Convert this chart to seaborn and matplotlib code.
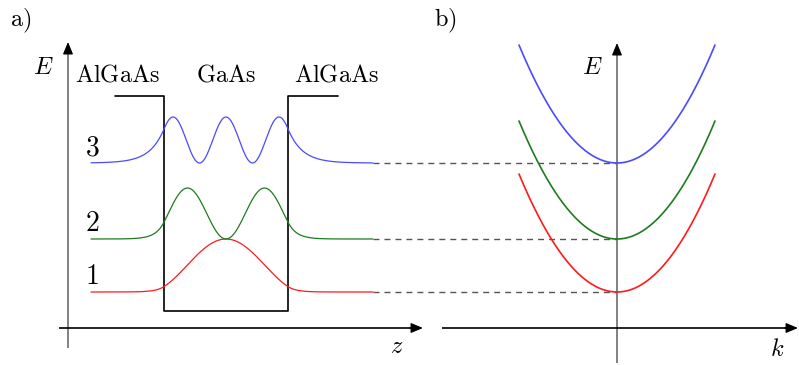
import numpy as np
import pandas as pd
import matplotlib
matplotlib.use("Agg")
import matplotlib.pyplot as plt
import seaborn as sns

sns.set_theme(style="white")
plt.rcParams["mathtext.fontset"] = "cm"
plt.rcParams["lines.scale_dashes"] = False
plt.rcParams["text.color"] = "black"

# ---------------- data (schematic units: x ~ horizontal position, E ~ energy) ----------------
levels = [36, 89, 165]                 # subband energies E1, E2, E3
level_labels = ["1", "2", "3"]
peak_heights = [53, 51, 46]            # drawn height of |psi|^2
wavenumbers = [0.0201, 0.0408, 0.0593] # inside-well wavenumbers
level_colors = ["#ff1a1a", "#1e7b1e", "#4a4aff"]

well_center = 226
well_halfwidth = 62
well_top = 232
well_bottom = 17
barrier_outer = [115, 338]
wave_span = [91, 373]

layer_labels = ["AlGaAs", "GaAs", "AlGaAs"]
layer_x = [118, 226, 337]

k0 = 617                # k = 0 position in panel b
k_halfrange = 98
band_rise = 118         # energy rise at k = +-k_halfrange

za_x, kb_x = 68, 617    # vertical axes positions

# ---------------- figure ----------------
fig = plt.figure(figsize=(7.99, 3.65), dpi=100)
ax = fig.add_axes([0, 0, 1, 1])
ax.set_xlim(0, 799)
ax.set_ylim(-37, 328)
ax.set_axis_off()

axis_gray = "#777777"

def arrow_head(x0, y0, x1, y1):
    ax.annotate("", xy=(x1, y1), xytext=(x0, y0),
                arrowprops=dict(arrowstyle="-|>,head_length=0.6,head_width=0.25",
                                color="black", lw=1.0, shrinkA=0, shrinkB=0,
                                mutation_scale=12))

# panel a axes
ax.plot([za_x, za_x], [-20, 280], color=axis_gray, lw=1.3, solid_capstyle="butt")
arrow_head(za_x, 275, za_x, 286)
ax.plot([59, 415], [0, 0], color="black", lw=1.2, solid_capstyle="butt")
arrow_head(410, 0, 423, 0)

# panel b axes
ax.plot([kb_x, kb_x], [-35, 280], color=axis_gray, lw=1.3, solid_capstyle="butt")
arrow_head(kb_x, 275, kb_x, 285)
ax.plot([442, 790], [0, 0], color="black", lw=1.2, solid_capstyle="butt")
arrow_head(785, 0, 798, 0)

# quantum well profile
wl = well_center - well_halfwidth
wr = well_center + well_halfwidth
well_df = pd.DataFrame({
    "x": [barrier_outer[0], wl, wl, wr, wr, barrier_outer[1]],
    "E": [well_top, well_top, well_bottom, well_bottom, well_top, well_top],
})
sns.lineplot(data=well_df, x="x", y="E", sort=False, estimator=None,
             color="black", lw=1.2, ax=ax)

# probability densities
x = np.linspace(wave_span[0], wave_span[1], 800)
z = x - well_center
a = well_halfwidth
for n, (E, h, k, c) in enumerate(zip(levels, peak_heights, wavenumbers, level_colors), start=1):
    if n % 2 == 1:
        inside = np.cos(k * z) ** 2
        edge = np.cos(k * a)
        kappa = k * np.tan(k * a)
    else:
        inside = np.sin(k * z) ** 2
        edge = np.sin(k * a)
        kappa = -k / np.tan(k * a)
    outside = edge ** 2 * np.exp(-2 * kappa * (np.abs(z) - a))
    dens = np.where(np.abs(z) <= a, inside, outside)
    df = pd.DataFrame({"x": x, "E": E + h * dens})
    sns.lineplot(data=df, x="x", y="E", sort=False, estimator=None,
                 color=c, lw=0.9, ax=ax)
    # dashed connector to panel b
    ax.plot([wave_span[1], k0], [E, E], color="#555555", lw=1.0,
            dashes=(4.3, 3.6))

# parabolic subbands
kk = np.linspace(-k_halfrange, k_halfrange, 400)
for E, c in zip(levels, level_colors):
    df = pd.DataFrame({"x": k0 + kk, "E": E + band_rise * (kk / k_halfrange) ** 2})
    sns.lineplot(data=df, x="x", y="E", sort=False, estimator=None,
                 color=c, lw=1.2, ax=ax)

# texts
fs = 17.5
ax.text(21, 307, r"$\mathrm{a)}$", fontsize=fs, ha="center", va="center")
ax.text(445, 307, r"$\mathrm{b)}$", fontsize=fs, ha="center", va="center")
ax.text(43, 261, r"$E$", fontsize=fs, ha="center", va="center")
ax.text(592, 261, r"$E$", fontsize=fs, ha="center", va="center")
ax.text(397, -18, r"$z$", fontsize=fs, ha="center", va="center")
ax.text(777, -21, r"$k$", fontsize=fs, ha="center", va="center")
for lab, lx in zip(layer_labels, layer_x):
    ax.text(lx, 253, r"$\mathrm{%s}$" % lab, fontsize=fs, ha="center", va="center")
for lab, E in zip(level_labels, levels):
    ax.text(92, E + 16, r"$\mathrm{%s}$" % lab, fontsize=20, ha="center", va="center")

fig.savefig("out.png", dpi=100)
